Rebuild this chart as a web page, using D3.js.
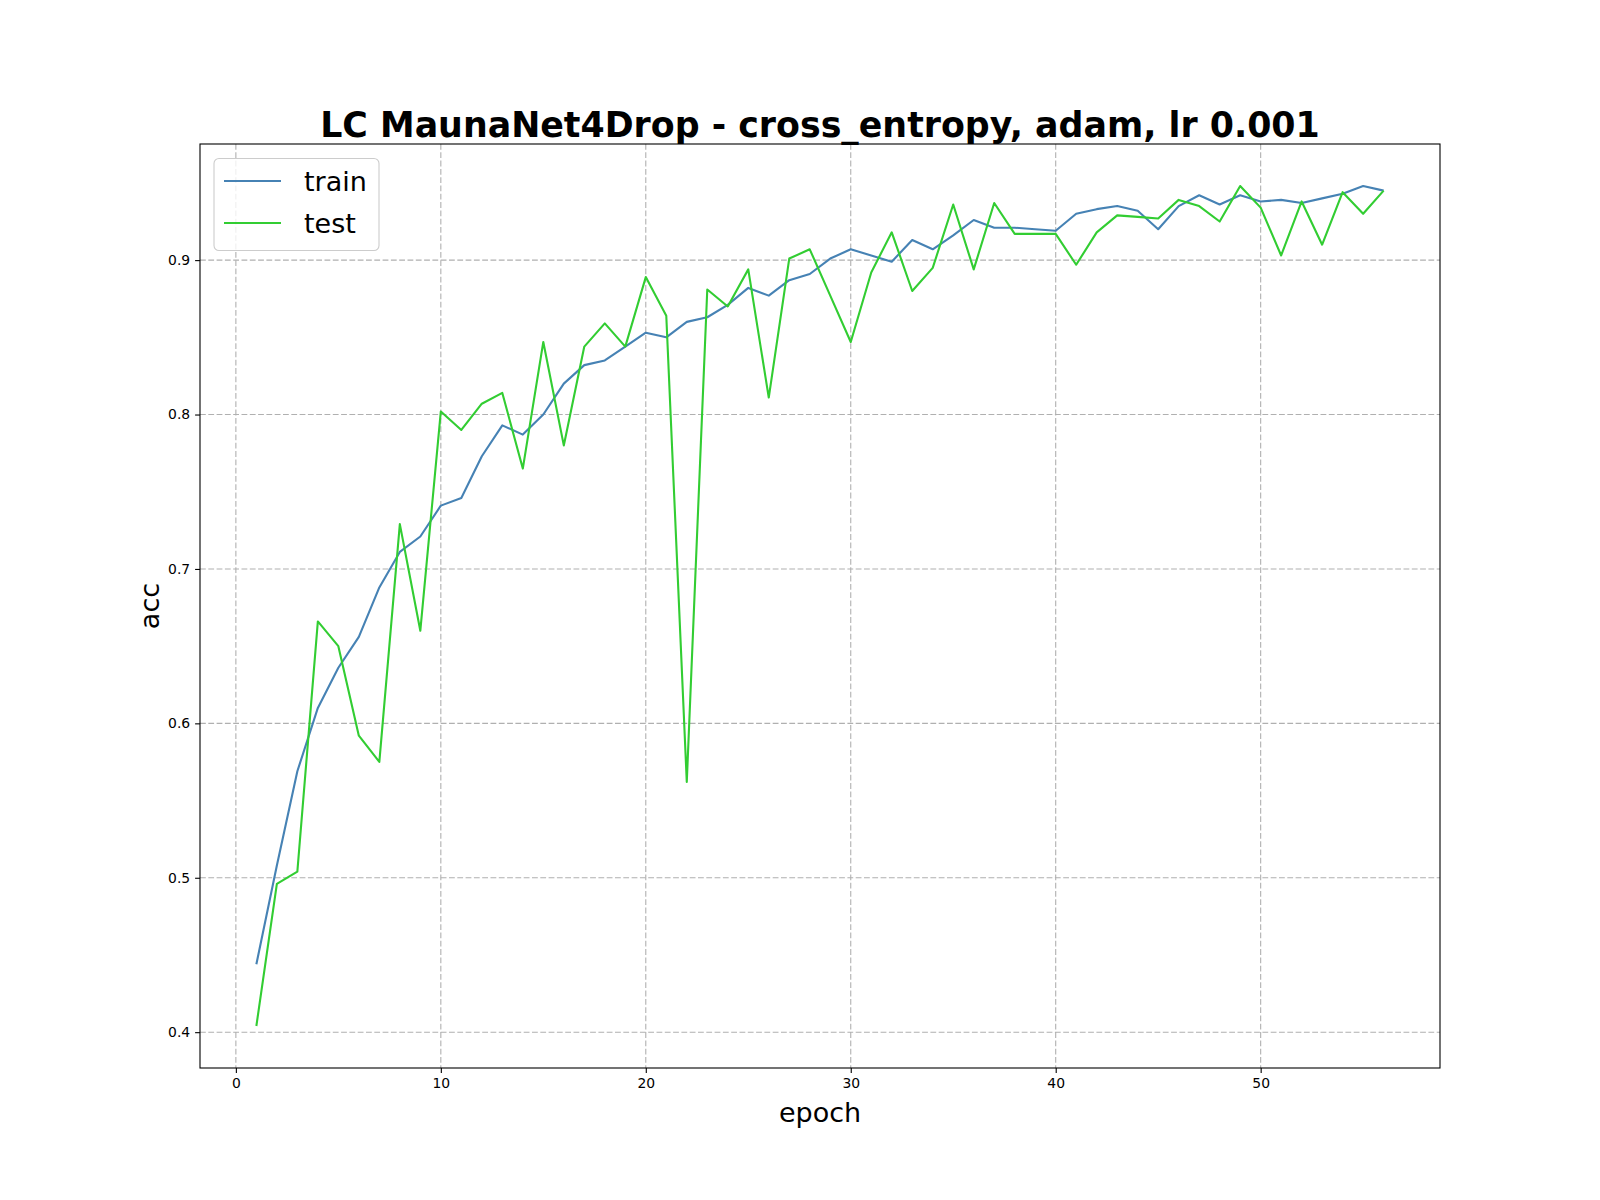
<!DOCTYPE html>
<html>
<head>
<meta charset="utf-8">
<script src="https://cdn.jsdelivr.net/npm/d3@7"></script>
<style>
  body { margin: 0; background: #fff; }
  text { font-family: "DejaVu Sans", sans-serif; }
</style>
</head>
<body>
<div id="chart-area"></div>
<script>
// learning curve values
var epochs = d3.range(1, 57);
var trainAcc = [0.444, 0.508, 0.569, 0.610, 0.636, 0.656, 0.688, 0.711, 0.721, 0.741,
	0.746, 0.773, 0.793, 0.787, 0.800, 0.820, 0.832, 0.835, 0.844, 0.853,
	0.850, 0.860, 0.863, 0.871, 0.882, 0.877, 0.887, 0.891, 0.901, 0.907,
	0.903, 0.899, 0.913, 0.907, 0.916, 0.926, 0.921, 0.921, 0.920, 0.919,
	0.930, 0.933, 0.935, 0.932, 0.920, 0.935, 0.942, 0.936, 0.942, 0.938,
	0.939, 0.937, 0.940, 0.943, 0.948, 0.945];
var testAcc = [0.404, 0.496, 0.504, 0.666, 0.650, 0.592, 0.575, 0.729, 0.660, 0.802,
	0.790, 0.807, 0.814, 0.765, 0.847, 0.780, 0.844, 0.859, 0.844, 0.889,
	0.864, 0.562, 0.881, 0.870, 0.894, 0.811, 0.901, 0.907, 0.877, 0.847,
	0.892, 0.918, 0.880, 0.895, 0.936, 0.894, 0.937, 0.917, 0.917, 0.917,
	0.897, 0.918, 0.929, 0.928, 0.927, 0.939, 0.935, 0.925, 0.948, 0.934,
	0.903, 0.938, 0.910, 0.944, 0.930, 0.945];
var xTicks = [0, 10, 20, 30, 40, 50];
var yTicks = [0.4, 0.5, 0.6, 0.7, 0.8, 0.9];
var seriesNames = ["train", "test"];
var seriesColors = ["#4682b4", "#32cd32"];

var completeWidth = 1600,
	completeHeight = 1200;
var margin = { left: 200, right: 160, top: 144, bottom: 132 };
var width = completeWidth - margin.left - margin.right,
	height = completeHeight - margin.top - margin.bottom;

var svg = d3.select("#chart-area")
	.append("svg")
		.attr("width", completeWidth)
		.attr("height", completeHeight);
var g = svg.append("g")
	.attr("transform", "translate(" + margin.left + "," + margin.top + ")");

// Scales (matplotlib style 5% padding)
var xPad = (d3.max(epochs) - d3.min(epochs)) * 0.05;
var x = d3.scaleLinear()
	.domain([d3.min(epochs) - xPad, d3.max(epochs) + xPad])
	.range([0, width]);
var allVals = trainAcc.concat(testAcc);
var yPad = (d3.max(allVals) - d3.min(allVals)) * 0.05;
var y = d3.scaleLinear()
	.domain([d3.min(allVals) - yPad, d3.max(allVals) + yPad])
	.range([height, 0]);

// Grid
g.append("g").selectAll("line").data(xTicks).enter().append("line")
	.attr("x1", d => x(d)).attr("x2", d => x(d))
	.attr("y1", 0).attr("y2", height)
	.attr("stroke", "#b0b0b0").attr("stroke-width", 1.1)
	.attr("stroke-dasharray", "5.8,2.5");
g.append("g").selectAll("line").data(yTicks).enter().append("line")
	.attr("x1", 0).attr("x2", width)
	.attr("y1", d => y(d)).attr("y2", d => y(d))
	.attr("stroke", "#b0b0b0").attr("stroke-width", 1.1)
	.attr("stroke-dasharray", "5.8,2.5");

// Axes
var xAxisCall = d3.axisBottom(x)
	.tickValues(xTicks)
	.tickFormat(d3.format("d"))
	.tickSize(4.9).tickPadding(4.9);
var xAxis = g.append("g")
	.attr("class", "x axis")
	.attr("transform", "translate(0," + height + ")")
	.call(xAxisCall);
var yAxisCall = d3.axisLeft(y)
	.tickValues(yTicks)
	.tickFormat(d3.format(".1f"))
	.tickSize(4.9).tickPadding(4.9);
var yAxis = g.append("g")
	.attr("class", "y axis")
	.call(yAxisCall);
[xAxis, yAxis].forEach(function(a) {
	a.select(".domain").remove();
	a.selectAll(".tick line").attr("stroke", "#000").attr("stroke-width", 1.1);
	a.selectAll(".tick text")
		.attr("font-family", "DejaVu Sans")
		.attr("font-size", "13.9px")
		.attr("fill", "#000");
});

// Lines
var line = d3.line()
	.x((d, i) => x(epochs[i]))
	.y(d => y(d));
[trainAcc, testAcc].forEach(function(series, k) {
	g.append("path")
		.datum(series)
		.attr("fill", "none")
		.attr("stroke", seriesColors[k])
		.attr("stroke-width", 2.1)
		.attr("stroke-linejoin", "round")
		.attr("stroke-linecap", "butt")
		.attr("d", line);
});

// Frame
g.append("rect")
	.attr("width", width).attr("height", height)
	.attr("fill", "none")
	.attr("stroke", "#000").attr("stroke-width", 1.1);

// Legend
var legend = g.append("g").attr("transform", "translate(14,14.5)");
legend.append("rect")
	.attr("width", 165).attr("height", 92)
	.attr("rx", 5).attr("ry", 5)
	.attr("fill", "#fff").attr("fill-opacity", 0.8)
	.attr("stroke", "#cccccc").attr("stroke-width", 1.1);
seriesNames.forEach(function(name, i) {
	var row = legend.append("g").attr("transform", "translate(0," + (22.5 + i * 42) + ")");
	row.append("line")
		.attr("x1", 10).attr("x2", 67)
		.attr("stroke", seriesColors[i]).attr("stroke-width", 2.1);
	row.append("text")
		.attr("x", 90).attr("y", 10)
		.attr("font-size", "27px")
		.text(name);
});

// Labels
svg.append("text")
	.attr("x", margin.left + width / 2)
	.attr("y", 137)
	.attr("text-anchor", "middle")
	.attr("font-size", "34.8px")
	.attr("font-weight", "bold")
	.text("LC MaunaNet4Drop - cross_entropy, adam, lr 0.001");
svg.append("text")
	.attr("x", margin.left + width / 2)
	.attr("y", 1122)
	.attr("text-anchor", "middle")
	.attr("font-size", "27px")
	.text("epoch");
svg.append("text")
	.attr("transform", "translate(159," + (margin.top + height / 2) + ") rotate(-90)")
	.attr("text-anchor", "middle")
	.attr("font-size", "27px")
	.text("acc");
</script>
</body>
</html>
